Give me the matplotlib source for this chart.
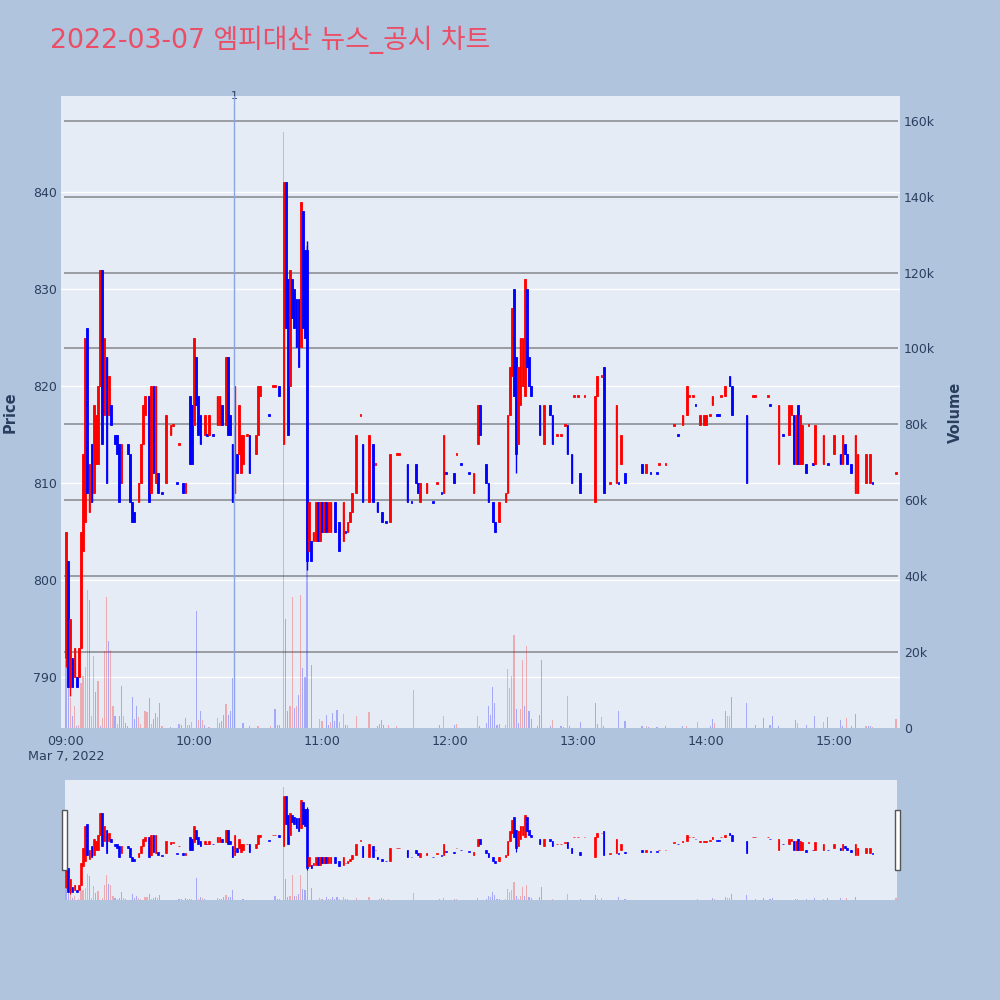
import matplotlib
matplotlib.use('Agg')
import matplotlib.pyplot as plt
from matplotlib.patches import Rectangle
import numpy as np

# ---------------- data ----------------
title = "2022-03-07 엠피대산 뉴스_공시 차트"
session_start = "09:00"

candle_min = [0, 1, 2, 3, 4, 5, 6, 7, 8, 9, 10, 11, 12, 13, 14, 15, 16, 17, 18, 19, 20, 21, 23, 24, 25, 26,
              29, 30, 31, 32, 34, 35, 36, 37, 39, 40, 41, 42, 43, 45, 47, 49, 50, 52, 53, 55, 56, 58, 59,
              60, 61, 62, 63, 65, 66, 67, 69, 71, 72, 73, 75, 76, 77, 78, 79, 80, 81, 82, 83, 85, 86, 89,
              90, 91, 95, 97, 98, 100, 102, 103, 104, 105, 106, 107, 108, 109, 110, 111, 112, 113, 114,
              115, 116, 117, 118, 119, 120, 121, 122, 123, 124, 126, 128, 130, 131, 132, 133, 134, 136,
              138, 139, 142, 144, 145, 146, 148, 150, 152, 155, 156, 160, 162, 164, 165, 166, 169, 172,
              174, 176, 177, 178, 182, 183, 185, 189, 191, 193, 194, 197, 198, 200, 201, 203, 206, 207,
              208, 209, 210, 211, 212, 213, 214, 215, 216, 217, 218, 222, 224, 227, 228, 230, 232, 234,
              235, 237, 238, 240, 241, 243, 248, 249, 251, 252, 255, 258, 259, 260, 262, 270, 272, 274,
              277, 278, 281, 285, 287, 289, 291, 292, 294, 295, 297, 299, 300, 302, 303, 305, 306, 307,
              309, 311, 312, 319, 322, 323, 329, 330, 334, 336, 339, 340, 341, 342, 343, 344, 345, 347,
              348, 350, 351, 355, 357, 360, 363, 364, 365, 366, 368, 370, 371, 375, 377, 378, 389]
candle_open = [792, 802, 789, 792, 790, 790, 790, 793, 803, 806, 826, 807, 814, 809, 812, 812, 820, 832, 817,
               823, 817, 818, 815, 815, 814, 810, 814, 813, 808, 807, 808, 810, 814, 817, 819, 809, 820,
               810, 811, 809, 810, 815, 816, 810, 814, 810, 809, 819, 818, 816, 823, 819, 817, 815, 815,
               815, 815, 816, 816, 818, 816, 823, 817, 814, 809, 813, 813, 811, 812, 815, 815, 813, 815,
               819, 817, 820, 820, 820, 814, 841, 831, 820, 831, 830, 829, 829, 824, 838, 834, 834, 803,
               804, 804, 804, 808, 804, 808, 805, 808, 805, 805, 808, 806, 804, 805, 805, 806, 807, 809,
               817, 814, 808, 814, 812, 808, 807, 806, 806, 813, 813, 812, 808, 812, 810, 808, 809, 808,
               810, 809, 809, 811, 811, 813, 812, 811, 809, 814, 818, 812, 810, 808, 806, 806, 808, 809,
               817, 821, 830, 823, 814, 818, 820, 819, 830, 823, 820, 818, 814, 818, 817, 815, 815, 816,
               816, 813, 819, 819, 811, 819, 808, 819, 821, 822, 810, 810, 810, 812, 811, 812, 811, 811,
               811, 812, 812, 816, 815, 816, 817, 819, 819, 818, 816, 816, 816, 817, 818, 817, 817, 819,
               819, 821, 820, 817, 819, 819, 819, 818, 812, 815, 815, 817, 817, 812, 818, 812, 812, 812,
               816, 812, 812, 812, 812, 813, 813, 812, 814, 813, 812, 809, 809, 810, 810, 810, 811]
candle_high = [805, 802, 796, 792, 793, 790, 793, 805, 813, 825, 826, 812, 814, 818, 817, 820, 832, 832, 825,
               823, 821, 818, 815, 815, 814, 814, 814, 813, 808, 807, 810, 814, 818, 819, 819, 820, 820,
               820, 811, 809, 817, 816, 816, 810, 814, 810, 810, 819, 818, 825, 823, 819, 817, 817, 815,
               817, 815, 819, 819, 818, 823, 823, 817, 814, 820, 813, 818, 815, 815, 815, 815, 815, 820,
               820, 817, 820, 820, 820, 841, 841, 831, 832, 831, 830, 829, 829, 839, 838, 834, 835, 808,
               804, 805, 808, 808, 808, 808, 808, 808, 808, 808, 808, 806, 808, 805, 806, 807, 809, 815,
               817, 814, 815, 814, 812, 808, 807, 806, 813, 813, 813, 812, 808, 812, 810, 810, 810, 808,
               810, 809, 815, 811, 811, 813, 812, 811, 811, 818, 818, 812, 810, 808, 806, 808, 809, 817,
               822, 828, 830, 823, 822, 825, 825, 831, 830, 823, 820, 818, 818, 818, 817, 815, 815, 816,
               816, 813, 819, 819, 811, 819, 819, 821, 821, 822, 810, 818, 810, 815, 811, 812, 812, 811,
               811, 812, 812, 816, 815, 817, 820, 819, 819, 818, 817, 817, 817, 817, 819, 817, 817, 819,
               820, 821, 820, 817, 819, 819, 819, 818, 818, 815, 818, 818, 817, 817, 818, 817, 816, 812,
               816, 812, 816, 815, 812, 815, 813, 815, 814, 813, 812, 815, 813, 813, 813, 810, 811]
candle_low = [791, 789, 788, 789, 790, 789, 790, 793, 803, 806, 809, 807, 808, 809, 812, 812, 820, 814, 817,
              810, 817, 816, 814, 813, 808, 810, 813, 808, 806, 806, 808, 810, 814, 817, 808, 809, 811,
              810, 809, 809, 810, 815, 816, 810, 814, 809, 809, 812, 812, 816, 818, 815, 814, 815, 815,
              815, 815, 816, 816, 816, 816, 815, 815, 808, 809, 811, 813, 811, 812, 815, 811, 813, 815,
              819, 817, 820, 820, 819, 814, 826, 815, 820, 827, 826, 824, 822, 824, 826, 825, 801, 803,
              802, 804, 804, 804, 804, 805, 805, 805, 805, 805, 805, 803, 804, 805, 805, 806, 807, 809,
              817, 808, 808, 808, 812, 807, 806, 806, 806, 813, 813, 808, 808, 810, 809, 808, 809, 808,
              810, 809, 809, 811, 810, 813, 812, 811, 809, 814, 815, 810, 808, 806, 805, 806, 808, 809,
              817, 821, 819, 811, 814, 818, 820, 819, 822, 820, 819, 815, 814, 817, 814, 815, 815, 816,
              813, 810, 819, 819, 809, 819, 808, 819, 821, 809, 810, 810, 810, 812, 810, 811, 811, 811,
              811, 812, 812, 816, 815, 816, 817, 819, 819, 818, 816, 816, 816, 817, 818, 817, 817, 819,
              819, 820, 817, 810, 819, 819, 819, 818, 812, 815, 815, 817, 812, 812, 812, 812, 812, 811,
              816, 812, 812, 812, 812, 813, 812, 812, 813, 812, 811, 809, 809, 810, 810, 810, 811]
candle_close = [805, 789, 796, 789, 793, 789, 793, 805, 813, 825, 809, 812, 808, 818, 817, 820, 832, 814, 825,
                810, 821, 816, 814, 813, 808, 814, 813, 808, 806, 806, 810, 814, 818, 819, 808, 820, 811,
                820, 809, 809, 817, 816, 816, 810, 814, 809, 810, 812, 812, 825, 818, 815, 814, 817, 815,
                817, 815, 819, 819, 816, 823, 815, 815, 808, 820, 811, 818, 815, 815, 815, 811, 815, 820,
                820, 817, 820, 820, 819, 841, 826, 815, 832, 827, 826, 824, 822, 839, 826, 825, 802, 808,
                802, 805, 808, 804, 808, 805, 808, 805, 808, 808, 805, 803, 808, 805, 806, 807, 809, 815,
                817, 808, 815, 808, 812, 807, 806, 806, 813, 813, 813, 808, 808, 810, 809, 810, 810, 808,
                810, 809, 815, 811, 810, 813, 812, 811, 811, 818, 815, 810, 808, 806, 805, 808, 809, 817,
                822, 828, 819, 813, 822, 825, 825, 831, 822, 820, 819, 815, 818, 817, 814, 815, 815, 816,
                813, 810, 819, 819, 809, 819, 819, 821, 821, 809, 810, 818, 810, 815, 810, 811, 812, 811,
                811, 812, 812, 816, 815, 817, 820, 819, 819, 818, 817, 817, 817, 817, 819, 817, 817, 819,
                820, 820, 817, 810, 819, 819, 819, 818, 818, 815, 818, 818, 812, 817, 812, 817, 816, 811,
                816, 812, 816, 815, 812, 815, 812, 815, 813, 812, 811, 815, 813, 813, 813, 810, 811]
# unchanged-price candles drawn in the "up" colour
doji_up_min = [50, 53, 85, 97, 98, 138, 145, 155, 156, 174, 183, 230, 232, 234, 238, 240, 243, 251, 255,
               278, 281, 285, 292, 294, 302, 307, 322, 323, 329, 348, 389]

vol_min = [0, 1, 2, 3, 4, 5, 6, 7, 8, 9, 10, 11, 12, 13, 14, 15, 16, 17, 18, 19, 20, 21, 22, 23, 24, 25, 26,
           27, 28, 29, 31, 32, 33, 34, 35, 37, 38, 39, 40, 41, 42, 43, 44, 45, 49, 53, 54, 56, 57, 58, 59,
           61, 62, 63, 64, 65, 67, 71, 72, 73, 74, 75, 76, 77, 78, 83, 86, 90, 96, 98, 99, 100, 102, 103,
           104, 105, 106, 107, 108, 109, 110, 111, 112, 113, 115, 119, 120, 122, 123, 124, 125, 126, 127,
           128, 130, 131, 132, 136, 142, 146, 147, 148, 149, 151, 155, 163, 175, 177, 182, 183, 193, 194,
           197, 198, 199, 200, 201, 202, 203, 206, 207, 208, 209, 210, 211, 212, 213, 214, 215, 216, 217,
           218, 221, 222, 223, 227, 228, 232, 233, 235, 236, 241, 248, 249, 251, 252, 259, 262, 270, 272,
           273, 277, 281, 289, 291, 296, 302, 303, 304, 309, 310, 311, 312, 319, 323, 327, 330, 331, 334,
           342, 343, 347, 351, 355, 357, 363, 364, 366, 368, 370, 375, 376, 377, 378, 389]
vol_val = [18000, 25900, 7900, 3100, 5700, 400, 900, 11800, 13600, 16200, 36400, 33800, 3100, 18900, 9600,
           12300, 400, 2600, 20200, 34600, 22800, 20600, 5700, 3200, 1100, 3200, 11100, 3200, 1300, 600,
           8200, 2400, 5700, 2900, 1100, 4400, 4200, 7900, 1100, 2400, 3900, 2900, 6600, 600, 300, 1100,
           900, 2600, 900, 900, 1500, 30700, 2000, 4400, 2200, 900, 300, 2600, 1300, 1800, 3500, 6400,
           3500, 4400, 13200, 1300, 400, 400, 400, 5000, 700, 900, 157000, 28700, 4400, 5700, 34600,
           5300, 5900, 8800, 35000, 15800, 13400, 127000, 16700, 2400, 1800, 3500, 900, 1500, 3900, 1800,
           4800, 1500, 3800, 900, 900, 3100, 4100, 600, 1100, 2200, 900, 900, 600, 9900, 900, 3100, 900,
           1100, 3200, 400, 1300, 5700, 3500, 10800, 6600, 900, 1100, 900, 15500, 10500, 13800, 24600,
           5000, 1300, 5000, 18000, 5700, 21500, 4400, 2400, 400, 3500, 18000, 400, 2000, 600, 300, 8500,
           400, 1500, 6600, 1100, 2900, 600, 4600, 1800, 400, 400, 300, 300, 400, 400, 400, 1500, 400,
           2400, 1300, 4600, 3100, 3200, 8200, 6600, 900, 2600, 900, 3100, 400, 2000, 1300, 900, 3200,
           1500, 2800, 2200, 400, 2600, 400, 3700, 600, 600, 400, 300, 2400]
vol_up = [0, 0, 1, 0, 1, 0, 1, 1, 1, 1, 1, 0, 1, 1, 0, 1, 0, 1, 1, 1, 0, 1, 1, 0, 1, 0, 0, 1, 0, 0, 0, 0,
          0, 1, 1, 1, 1, 0, 1, 0, 0, 1, 0, 1, 0, 0, 0, 0, 1, 0, 1, 0, 1, 0, 1, 0, 1, 1, 0, 0, 0, 1, 0, 0,
          0, 0, 0, 1, 1, 0, 0, 0, 1, 0, 0, 1, 1, 0, 1, 0, 1, 0, 0, 0, 0, 1, 1, 0, 0, 1, 0, 0, 0, 1, 1, 0,
          1, 1, 1, 0, 0, 0, 0, 1, 1, 1, 0, 1, 0, 1, 1, 0, 0, 0, 0, 0, 0, 0, 0, 1, 1, 1, 1, 1, 0, 0, 1, 1,
          0, 1, 0, 0, 0, 0, 0, 0, 1, 0, 0, 1, 0, 0, 0, 0, 1, 0, 0, 0, 0, 1, 0, 0, 0, 0, 1, 1, 0, 0, 1, 0,
          1, 1, 0, 0, 0, 0, 0, 0, 0, 0, 1, 0, 0, 1, 0, 0, 0, 1, 0, 0, 1, 0, 0, 1, 1, 1]

news_times = ["10:18:45"]
news_labels = ["1"]

price_ticks = [790, 800, 810, 820, 830, 840]
vol_ticks = [0, 20000, 40000, 60000, 80000, 100000, 120000, 140000, 160000]
vol_tick_labels = ["0", "20k", "40k", "60k", "80k", "100k", "120k", "140k", "160k"]
time_ticks = ["09:00", "10:00", "11:00", "12:00", "13:00", "14:00", "15:00"]
date_label = "Mar 7, 2022"


def to_min(t):
    parts = [int(p) for p in t.split(":")]
    while len(parts) < 3:
        parts.append(0)
    h0, m0 = [int(p) for p in session_start.split(":")]
    return (parts[0] - h0) * 60 + (parts[1] - m0) + parts[2] / 60.0


# ---------------- style ----------------
BG = '#B0C4DE'
PLOT_BG = '#E5ECF6'
TXT = '#2a3f5f'
UP = '#ff0000'
DN = '#0000ff'
W = H = 1000


def rect(l, t, r, b):
    return [l / W, 1 - b / H, (r - l) / W, (b - t) / H]


fig = plt.figure(figsize=(10, 10), dpi=100, facecolor=BG)

m = np.array(candle_min, float)
o = np.array(candle_open, float)
hi = np.array(candle_high, float)
lo = np.array(candle_low, float)
c = np.array(candle_close, float)
up = (c > o) | ((c == o) & np.isin(m, doji_up_min))
ccol = np.where(up, UP, DN)
blo = np.minimum(o, c)
bh = np.abs(c - o)
tick = bh < 0.2
blo = np.where(tick, (o + c) / 2 - 0.1, blo)
bh = np.where(tick, 0.2, bh)

vm = np.array(vol_min, float)
vv = np.array(vol_val, float)
vcol = [(1, 0, 0, 0.28) if u else (0, 0, 1, 0.28) for u in vol_up]

PRICE_LIM = (784.75, 849.9)
VOL_LIM = (0, 166500)


def draw_candles(axc, body_w, wick_lw, edge_lw):
    axc.vlines(m, lo, hi, colors=ccol, lw=wick_lw, zorder=3)
    axc.bar(m, bh, bottom=blo, width=body_w, color=ccol, edgecolor=ccol, linewidth=edge_lw, zorder=4)


# ---------------- main chart ----------------
main_rect = rect(61, 96, 900, 728)
ax = fig.add_axes(main_rect)
ax.set_facecolor(PLOT_BG)
ax.set_xlim(-2.34, 390.9)
ax.set_ylim(*PRICE_LIM)
for p in price_ticks:
    ax.axhline(p, color='white', lw=1.0, zorder=0.5)
ax.set_yticks(price_ticks)
ax.set_yticklabels([str(p) for p in price_ticks])
ax.tick_params(axis='y', length=0, pad=3, labelsize=9, labelcolor=TXT)
xt = [to_min(t) for t in time_ticks]
ax.set_xticks(xt)
ax.set_xticklabels([time_ticks[0] + "\n" + date_label] + time_ticks[1:])
ax.tick_params(axis='x', length=0, pad=5, labelsize=9.2, labelcolor=TXT)
for s in ax.spines.values():
    s.set_visible(False)
ax.set_ylabel("Price", fontsize=10.5, fontweight='bold', color=TXT, labelpad=11)

axv = ax.twinx()
axv.set_ylim(*VOL_LIM)
for v in vol_ticks[1:]:
    axv.axhline(v, xmin=4 / 839, xmax=836 / 839, color='#9a9ca3', lw=1.4, zorder=1)
axv.bar(vm, vv, width=0.55, color=vcol, linewidth=0, zorder=2)
axv.set_yticks(vol_ticks)
axv.set_yticklabels(vol_tick_labels)
axv.tick_params(axis='y', length=0, pad=3, labelsize=9, labelcolor=TXT)
for s in axv.spines.values():
    s.set_visible(False)
axv.set_ylabel("Volume", fontsize=10.5, fontweight='bold', color=TXT, labelpad=9)

axc = fig.add_axes(main_rect, sharex=ax, sharey=ax)
axc.patch.set_visible(False)
axc.axis('off')
axc.set_zorder(axv.get_zorder() + 1)
draw_candles(axc, 0.8, 1.0, 0.6)
for t, lab in zip(news_times, news_labels):
    nx = to_min(t)
    axc.axvline(nx, color='#8aa6e6', lw=1.0, zorder=5)
    axc.text(nx, 1.0, lab, transform=axc.get_xaxis_transform(), ha='center', va='center',
             fontsize=8, color=TXT, clip_on=False)

# ---------------- range slider ----------------
sl_rect = rect(65, 780, 897, 900)
axs = fig.add_axes(sl_rect)
axs.set_facecolor(PLOT_BG)
axs.set_xlim(-0.47, 389.5)
axs.set_ylim(*PRICE_LIM)
axs.set_xticks([])
axs.set_yticks([])
for s in axs.spines.values():
    s.set_visible(False)
axsv = axs.twinx()
axsv.set_ylim(*VOL_LIM)
axsv.bar(vm, vv, width=0.55, color=vcol, linewidth=0)
axsv.set_yticks([])
for s in axsv.spines.values():
    s.set_visible(False)
axsc = fig.add_axes(sl_rect, sharex=axs, sharey=axs)
axsc.patch.set_visible(False)
axsc.axis('off')
axsc.set_zorder(axsv.get_zorder() + 1)
draw_candles(axsc, 0.8, 0.8, 0.5)

# slider grab handles
for (l, r) in [(62, 67), (895, 900)]:
    fig.patches.append(Rectangle((l / W, 1 - 870 / H), (r - l) / W, 60 / H, transform=fig.transFigure,
                                 facecolor='white', edgecolor='#555555', lw=1.0, zorder=10))

# ---------------- title ----------------
fig.text(0.05, 0.96, title, fontsize=19.3, color='#EB4D65', ha='left', va='center',
         family=['DejaVu Sans', 'Noto Sans CJK KR'])

fig.savefig('out.png', dpi=100, facecolor=BG)
